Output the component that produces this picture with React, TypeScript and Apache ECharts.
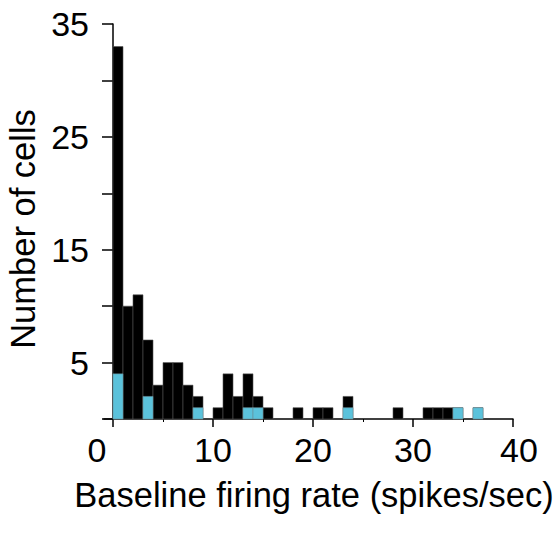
import React, { useEffect, useRef } from "react";
import * as echarts from "echarts";

// Histogram: bins of 1 spike/sec from 0 to 40
const binStarts: number[] = Array.from({ length: 40 }, (_, i) => i);
const totalCounts: number[] = [
  33, 10, 11, 7, 3, 5, 5, 3, 2, 0,
  1, 4, 2, 4, 2, 1, 0, 0, 1, 0,
  1, 1, 0, 2, 0, 0, 0, 0, 1, 0,
  0, 1, 1, 1, 1, 0, 1, 0, 0, 0,
];
const blueCounts: number[] = [
  4, 0, 0, 2, 0, 0, 0, 0, 1, 0,
  0, 0, 0, 1, 1, 0, 0, 0, 0, 0,
  0, 0, 0, 1, 0, 0, 0, 0, 0, 0,
  0, 0, 0, 0, 1, 0, 1, 0, 0, 0,
];
const xTicks: number[] = [0, 10, 20, 30, 40];
const xMinorTicks: number[] = [5, 15, 25, 35];
const yLabelled: number[] = [5, 15, 25, 35];

const FONT = "Liberation Sans, Arial, Helvetica, sans-serif";
const X_MIN = -0.9;
const X_MAX = 40;

function makeRender(fill: string, stroke: string) {
  return (params: any, api: any) => {
    const x0 = api.value(0);
    const v = api.value(1);
    if (!v) return null;
    const p0 = api.coord([x0, 0]);
    const p1 = api.coord([x0 + 1, v]);
    return {
      type: "rect",
      shape: { x: p0[0], y: p1[1], width: p1[0] - p0[0], height: p0[1] - p1[1] },
      style: { fill, stroke, lineWidth: 0.6 },
    };
  };
}

export default function App() {
  const ref = useRef<HTMLDivElement>(null);
  useEffect(() => {
    document.body.style.margin = "0";
    const chart = echarts.init(ref.current!, undefined, { renderer: "svg" });
    chart.setOption({
      animation: false,
      backgroundColor: "#ffffff",
      grid: { left: 104, right: 44, top: 24, bottom: 114, outerBoundsMode: "none", containLabel: false },
      xAxis: [
        {
          type: "value",
          min: X_MIN,
          max: X_MAX,
          name: "Baseline firing rate (spikes/sec)",
          nameLocation: "middle",
          nameGap: 58,
          nameTextStyle: {
            fontFamily: FONT,
            fontSize: 34.5,
            color: "#000",
            padding: [0, 0, 0, 11],
          },
          axisLine: { show: true, onZero: false, lineStyle: { color: "#000", width: 1.5 } },
          axisTick: {
            show: true,
            length: 8,
            customValues: xTicks,
            lineStyle: { color: "#000", width: 1.5 },
          },
          splitLine: { show: false },
          axisLabel: {
            fontFamily: FONT,
            fontSize: 34,
            color: "#000",
            margin: 14,
            customValues: xTicks,
            formatter: (v: number) => (v === 0 ? "{a|0}" : v === 40 ? "{b|40}" : String(v)),
            rich: {
              a: { fontFamily: FONT, fontSize: 34, color: "#000", padding: [0, 32, 0, 0] },
              b: { fontFamily: FONT, fontSize: 34, color: "#000", padding: [0, 0, 0, 12] },
            },
          },
        },
        {
          type: "value",
          min: X_MIN,
          max: X_MAX,
          position: "bottom",
          axisLine: { show: false, onZero: false },
          axisTick: {
            show: true,
            length: 3,
            customValues: xMinorTicks,
            lineStyle: { color: "#000", width: 1 },
          },
          axisLabel: { show: false },
          splitLine: { show: false },
        },
      ],
      yAxis: {
        type: "value",
        min: 0,
        max: 35,
        interval: 5,
        name: "Number of cells",
        nameLocation: "middle",
        nameGap: 52,
        nameTextStyle: {
          fontFamily: FONT,
          fontSize: 34.5,
          color: "#000",
          padding: [0, 15, 0, 0],
        },
        axisLine: { show: true, onZero: true, lineStyle: { color: "#000", width: 1.5 } },
        axisTick: { show: true, length: 11, lineStyle: { color: "#000", width: 1.5 } },
        splitLine: { show: false },
        axisLabel: {
          fontFamily: FONT,
          fontSize: 34,
          color: "#000",
          margin: 15,
          formatter: (v: number) => (yLabelled.includes(v) ? String(v) : ""),
        },
      },
      series: [
        {
          type: "custom",
          renderItem: makeRender("#000000", "#555555"),
          data: binStarts.map((b, i) => [b, totalCounts[i]]),
          encode: { x: 0, y: 1 },
          z: 2,
        },
        {
          type: "custom",
          renderItem: makeRender("#5bc2db", "#6a8e99"),
          data: binStarts.map((b, i) => [b, blueCounts[i]]),
          encode: { x: 0, y: 1 },
          z: 3,
        },
      ],
    });
    return () => chart.dispose();
  }, []);
  return <div ref={ref} style={{ width: 557, height: 533 }} />;
}
